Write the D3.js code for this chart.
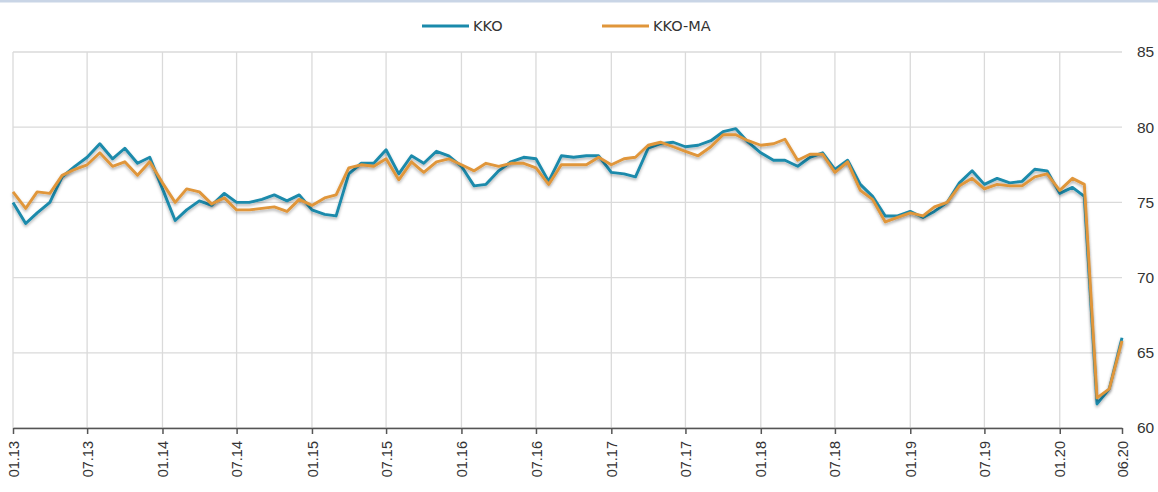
<!DOCTYPE html>
<html>
<head>
<meta charset="utf-8">
<script src="https://cdn.jsdelivr.net/npm/d3@7"></script>
<style>
  body { margin: 0; background: #fff; }
  svg { display: block; font-family: "DejaVu Sans", Verdana, sans-serif; }
</style>
</head>
<body>
<svg id="chart" width="1158" height="492"></svg>
<script>
// monthly values, 01.2013 .. 06.2020
const kko = [
  75.0, 73.6, 74.3, 75.0, 76.7, 77.4, 78.0, 78.9, 77.9, 78.6,
  77.6, 78.0, 75.9, 73.8, 74.5, 75.1, 74.8, 75.6, 75.0, 75.0,
  75.2, 75.5, 75.1, 75.5, 74.5, 74.2, 74.1, 76.9, 77.6, 77.6,
  78.5, 76.9, 78.1, 77.6, 78.4, 78.1, 77.4, 76.1, 76.2, 77.1,
  77.7, 78.0, 77.9, 76.4, 78.1, 78.0, 78.1, 78.1, 77.0, 76.9,
  76.7, 78.6, 78.9, 79.0, 78.7, 78.8, 79.1, 79.7, 79.9, 79.0,
  78.3, 77.8, 77.8, 77.4, 78.0, 78.3, 77.2, 77.8, 76.2, 75.4,
  74.1, 74.1, 74.4, 74.0, 74.4, 75.0, 76.3, 77.1, 76.2, 76.6,
  76.3, 76.4, 77.2, 77.1, 75.6, 76.0, 75.4, 61.6, 62.6, 66.0
]
const kkoMa = [
  75.7, 74.6, 75.7, 75.6, 76.8, 77.2, 77.5, 78.3, 77.4, 77.7,
  76.8, 77.7, 76.3, 75.0, 75.9, 75.7, 74.9, 75.3, 74.5, 74.5,
  74.6, 74.7, 74.4, 75.2, 74.8, 75.3, 75.5, 77.3, 77.5, 77.4,
  77.9, 76.5, 77.7, 77.0, 77.7, 77.9, 77.5, 77.1, 77.6, 77.4,
  77.6, 77.6, 77.3, 76.2, 77.5, 77.5, 77.5, 78.0, 77.5, 77.9,
  78.0, 78.8, 79.0, 78.7, 78.4, 78.1, 78.7, 79.5, 79.5, 79.1,
  78.8, 78.9, 79.2, 77.8, 78.2, 78.2, 77.0, 77.7, 75.8, 75.2,
  73.7, 74.0, 74.3, 74.1, 74.7, 75.0, 76.1, 76.6, 75.9, 76.2,
  76.1, 76.1, 76.7, 76.9, 75.8, 76.6, 76.2, 62.0, 62.6, 65.8
]
const months = d3.timeMonth.range(new Date(2013, 0, 1), new Date(2020, 6, 1))
const tickLabels = ["01.13", "07.13", "01.14", "07.14", "01.15", "07.15", "01.16", "07.16",
  "01.17", "07.17", "01.18", "07.18", "01.19", "07.19", "01.20", "06.20"]
const yTicks = [60, 65, 70, 75, 80, 85]
const seriesNames = ["KKO", "KKO-MA"]
const seriesColors = ["#1a8aab", "#e0963a"]

const parseTick = d3.timeParse("%m.%y")
const tickDates = tickLabels.map(parseTick)

const plot = { left: 13, right: 1122, top: 52, bottom: 428 }

const svg = d3.select("#chart")

const x = d3.scaleTime().domain([months[0], months[months.length - 1]]).range([plot.left, plot.right])
const y = d3.scaleLinear().domain([60, 85]).range([plot.bottom, plot.top])

// top border strip
svg.append("rect").attr("x", 0).attr("y", 0).attr("width", 1158).attr("height", 2.5).attr("fill", "#c9d5e6")

const defs = svg.append("defs")
defs.append("filter").attr("id", "shadow")
  .attr("x", "-5%").attr("y", "-20%").attr("width", "110%").attr("height", "140%")
  .append("feDropShadow")
  .attr("dx", 0).attr("dy", 2).attr("stdDeviation", 1.5)
  .attr("flood-color", "#000").attr("flood-opacity", 0.3)

// horizontal grid
svg.append("g")
  .selectAll("line")
  .data(yTicks)
  .join("line")
  .attr("x1", plot.left).attr("x2", plot.right)
  .attr("y1", d => y(d)).attr("y2", d => y(d))
  .attr("stroke", "#dadada").attr("stroke-width", 1.3)

// vertical grid (not at the last tick)
svg.append("g")
  .selectAll("line")
  .data(tickDates.slice(0, -1))
  .join("line")
  .attr("x1", d => x(d)).attr("x2", d => x(d))
  .attr("y1", plot.top).attr("y2", plot.bottom)
  .attr("stroke", "#dadada").attr("stroke-width", 1.3)

// x axis
const xAxis = svg.append("g")
  .attr("transform", `translate(0,${plot.bottom})`)
  .call(d3.axisBottom(x).tickValues(tickDates).tickFormat(d3.timeFormat("%m.%y")).tickSize(6).tickSizeOuter(0))
xAxis.select(".domain").attr("stroke", "#555").attr("stroke-width", 1.5)
xAxis.selectAll(".tick line").attr("stroke", "#555").attr("stroke-width", 1.5)
xAxis.selectAll(".tick text")
  .attr("fill", "#333")
  .attr("font-size", 14.5)
  .attr("text-anchor", "end")
  .attr("transform", "rotate(-90)")
  .attr("x", -13).attr("y", 0).attr("dy", "0.35em")

// y axis on the right, labels only
const yAxis = svg.append("g")
  .attr("transform", `translate(${plot.right},0)`)
  .call(d3.axisRight(y).tickValues(yTicks).tickSize(0).tickPadding(15))
yAxis.select(".domain").remove()
yAxis.selectAll(".tick text").attr("fill", "#333").attr("font-size", 15.5)

// series lines
const line = d3.line().x((d, i) => x(months[i])).y(d => y(d))
const series = [kko, kkoMa]
svg.append("g")
  .selectAll("path")
  .data(series)
  .join("path")
  .attr("d", line)
  .attr("fill", "none")
  .attr("stroke", (d, i) => seriesColors[i])
  .attr("stroke-width", 2.9)
  .attr("stroke-linejoin", "round")
  .attr("filter", "url(#shadow)")

// legend
const legendX = [422, 602]
const legend = svg.append("g")
  .selectAll("g")
  .data(seriesNames)
  .join("g")
  .attr("transform", (d, i) => `translate(${legendX[i]},26)`)
legend.append("line")
  .attr("x1", 0).attr("x2", 47)
  .attr("stroke", (d, i) => seriesColors[i])
  .attr("stroke-width", 3)
legend.append("text")
  .attr("x", 51).attr("dy", "0.35em")
  .attr("font-size", 14.5)
  .attr("fill", "#333")
  .text(d => d)
</script>
</body>
</html>
